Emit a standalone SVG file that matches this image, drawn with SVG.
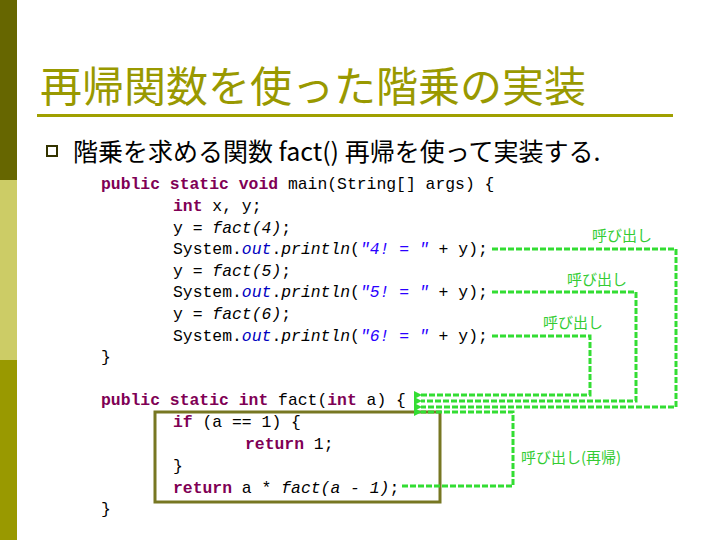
<svg xmlns="http://www.w3.org/2000/svg" width="720" height="540" viewBox="0 0 720 540">
<style>
.c{font-family:"Liberation Mono","DejaVu Sans Mono",monospace;font-size:16.4px;fill:#000}
.k{fill:#7f0055;font-weight:bold}
.i{font-style:italic}
.s{fill:#2a00ff;font-style:italic}
.o{fill:#0000c0;font-style:italic}
.g{font-family:"Noto Sans CJK JP",sans-serif;font-size:15px;fill:#33cc33}
.ln{fill:none;stroke:#33dd33;stroke-width:3;stroke-dasharray:6,2}
</style>
<defs><marker id="ar" markerWidth="8" markerHeight="8" refX="1" refY="4" orient="auto" markerUnits="userSpaceOnUse"><path d="M8,0L0,4L8,8z" fill="#33dd33"/></marker></defs>
<rect width="720" height="540" fill="#fff"/>
<rect x="0" y="0" width="17" height="180" fill="#666600"/>
<rect x="0" y="180" width="17" height="180" fill="#cccc66"/>
<rect x="0" y="360" width="17" height="180" fill="#999900"/>
<text x="40" y="102" font-family="Noto Sans CJK JP,sans-serif" font-size="42" fill="#999900">再帰関数を使った階乗の実装</text>
<rect x="37" y="114" width="636" height="3" fill="#a0a000"/>
<rect x="47" y="146" width="10" height="10" fill="none" stroke="#333300" stroke-width="2"/>
<text x="73" y="161" font-family="Noto Sans CJK JP,sans-serif" font-size="25" fill="#000">階乗を求める関数 fact() 再帰を使って実装する.</text>
<g id="main">
<text class="c" x="101" y="189"><tspan class="k">public static void</tspan> main(String[] args) {</text>
<text class="c" x="173" y="211"><tspan class="k">int</tspan> x, y;</text>
<text class="c" x="173" y="233">y = <tspan class="i">fact(4)</tspan>;</text>
<text class="c" x="173" y="254">System.<tspan class="o">out</tspan>.<tspan class="i">println</tspan>(<tspan class="s">"4! = "</tspan> + y);</text>
<text class="c" x="173" y="276">y = <tspan class="i">fact(5)</tspan>;</text>
<text class="c" x="173" y="297">System.<tspan class="o">out</tspan>.<tspan class="i">println</tspan>(<tspan class="s">"5! = "</tspan> + y);</text>
<text class="c" x="173" y="319">y = <tspan class="i">fact(6)</tspan>;</text>
<text class="c" x="173" y="341">System.<tspan class="o">out</tspan>.<tspan class="i">println</tspan>(<tspan class="s">"6! = "</tspan> + y);</text>
<text class="c" x="101" y="362">}</text>
</g>
<g id="fact">
<rect x="155" y="412" width="285" height="90" fill="none" stroke="#777722" stroke-width="3"/>
<text class="c" x="101" y="405"><tspan class="k">public static int</tspan> fact(<tspan class="k">int</tspan> a) {</text>
<text class="c" x="173" y="427"><tspan class="k">if</tspan> (a == 1) {</text>
<text class="c" x="245" y="449"><tspan class="k">return</tspan> 1;</text>
<text class="c" x="173" y="471">}</text>
<text class="c" x="173" y="493"><tspan class="k">return</tspan> a * <tspan class="i">fact(a - 1)</tspan>;</text>
<text class="c" x="101" y="514">}</text>
</g>
<g id="connectors">
<path class="ln" d="M492,249H676V407H421" marker-end="url(#ar)"/>
<path class="ln" d="M492,292H636V401H421" marker-end="url(#ar)"/>
<path class="ln" d="M492,336H590V395H421" marker-end="url(#ar)"/>
<path class="ln" d="M402,486H513V412H421" marker-end="url(#ar)"/>
<text class="g" x="592" y="241">呼び出し</text>
<text class="g" x="567" y="285">呼び出し</text>
<text class="g" x="543" y="328">呼び出し</text>
<text class="g" x="521" y="463">呼び出し(再帰)</text>
</g>
</svg>
